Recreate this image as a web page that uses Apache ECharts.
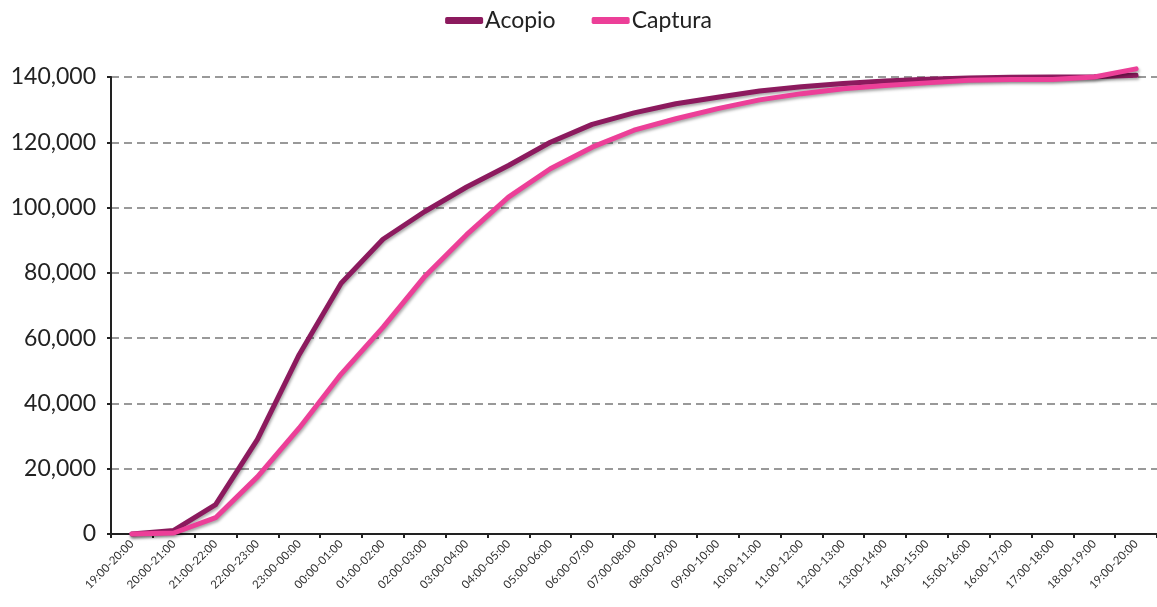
<!DOCTYPE html>
<html>
<head>
<meta charset="utf-8">
<script src="https://cdn.jsdelivr.net/npm/echarts@6/dist/echarts.min.js"></script>
<style>html,body{margin:0;padding:0;background:#fff}#c{width:1157px;height:607px}</style>
</head>
<body>
<div id="c"></div>
<script>
const categories = ['19:00-20:00','20:00-21:00','21:00-22:00','22:00-23:00','23:00-00:00','00:00-01:00','01:00-02:00','02:00-03:00','03:00-04:00','04:00-05:00','05:00-06:00','06:00-07:00','07:00-08:00','08:00-09:00','09:00-10:00','10:00-11:00','11:00-12:00','12:00-13:00','13:00-14:00','14:00-15:00','15:00-16:00','16:00-17:00','17:00-18:00','18:00-19:00','19:00-20:00'];
const acopio = [0, 1100, 9000, 29000, 55000, 76800, 90300, 98800, 106300, 112900, 120000, 125500, 129000, 131800, 133800, 135700, 137000, 138000, 138800, 139300, 139700, 139900, 140000, 140100, 140500];
const captura = [0, 300, 5000, 17500, 32500, 49000, 63300, 78900, 91700, 103200, 111900, 118500, 123700, 127200, 130300, 133000, 134900, 136400, 137400, 138200, 139000, 139200, 139200, 140000, 142500];
const yTicks = [0, 20000, 40000, 60000, 80000, 100000, 120000, 140000];

const chart = echarts.init(document.getElementById('c'));
const shadow = {shadowColor:'rgba(0,0,0,0.35)', shadowBlur:3, shadowOffsetX:1, shadowOffsetY:2};
chart.setOption({
  animation:false,
  textStyle:{fontFamily:'Lato'},
  legend:{
    top:4, left:'center', itemGap:36, itemWidth:38, itemHeight:7,
    icon:'roundRect',
    textStyle:{fontSize:23, color:'#222', fontFamily:'Lato', padding:[0,0,0,-3]},
    data:['Acopio','Captura']
  },
  grid:{left:111, right:0, top:77, bottom:73, containLabel:false},
  xAxis:{
    type:'category', data:categories, boundaryGap:true,
    axisLine:{lineStyle:{color:'#222', width:2}},
    axisTick:{show:true, length:4, lineStyle:{color:'#222', width:2}},
    axisLabel:{rotate:45, fontSize:11.5, color:'#333', margin:8, interval:0, fontFamily:'Lato'}
  },
  yAxis:{
    type:'value', min:yTicks[0], max:yTicks[yTicks.length-1], interval:20000,
    axisLine:{show:true, lineStyle:{color:'#222', width:2}},
    axisTick:{show:true, length:4, lineStyle:{color:'#222', width:2}},
    axisLabel:{fontSize:23, color:'#222', margin:15, fontFamily:'Lato', formatter:v=>v.toLocaleString('en-US')},
    splitLine:{show:true, lineStyle:{color:'#999', width:2, type:[8,5]}}
  },
  series:[
    {name:'Acopio', type:'line', data:acopio, showSymbol:false, symbol:'none', clip:false,
     itemStyle:{color:'#8C1A5E'}, lineStyle:Object.assign({color:'#8C1A5E', width:5, cap:'round', join:'round'}, shadow)},
    {name:'Captura', type:'line', data:captura, showSymbol:false, symbol:'none', clip:false,
     itemStyle:{color:'#EC3F98'}, lineStyle:Object.assign({color:'#EC3F98', width:5, cap:'round', join:'round'}, shadow)}
  ]
});
</script>
</body>
</html>
